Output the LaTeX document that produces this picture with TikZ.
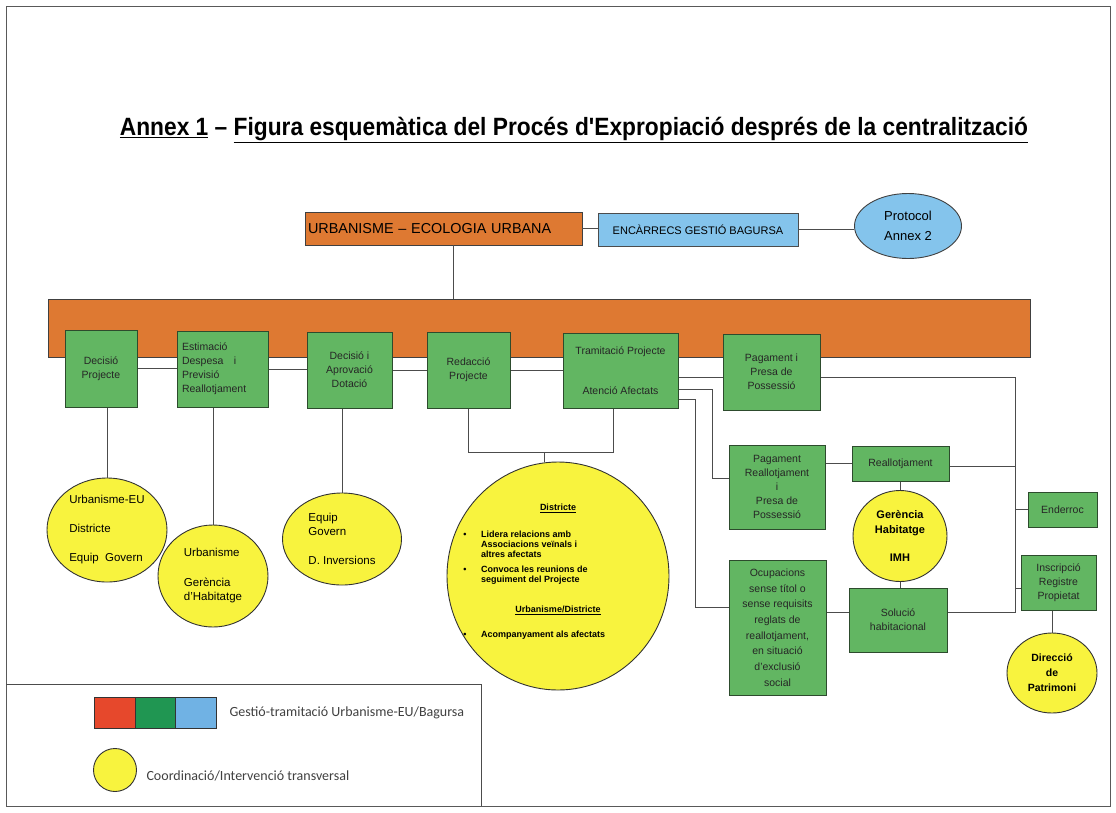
\documentclass[tikz,border=0pt]{standalone}
\usepackage{fontspec}
\setmainfont{Liberation Sans}
\newfontfamily\titlefont[FakeStretch=0.91]{Liberation Sans}
\newfontfamily\legendfont{Carlito}
\usetikzlibrary{shapes.geometric}

\definecolor{urbOrange}{RGB}{222,121,50}
\definecolor{boxGreen}{RGB}{98,182,98}
\definecolor{boxEdge}{RGB}{45,75,45}
\definecolor{bagBlue}{RGB}{132,196,236}
\definecolor{coordYellow}{RGB}{248,243,62}
\definecolor{legRed}{RGB}{230,72,44}
\definecolor{legGreen}{RGB}{32,150,82}
\definecolor{legBlue}{RGB}{112,178,228}

\tikzset{
    link/.style={draw=black!70, line width=0.9pt},
    orangebox/.style={rectangle, draw=black!75, fill=urbOrange, line width=0.8pt, inner sep=0pt},
    greenbox/.style={rectangle, draw=boxEdge, fill=boxGreen, line width=1pt, align=center, inner sep=1pt, text=black!85, font=\fontsize{10.5}{14}\selectfont},
    bluebox/.style={rectangle, draw=black!70, fill=bagBlue, line width=0.8pt},
    yelcirc/.style={ellipse, draw=black!80, fill=coordYellow, line width=0.9pt, inner sep=0pt, align=left, font=\fontsize{11.5}{14}\selectfont},
    distext/.style={font=\fontsize{9}{10}\selectfont\bfseries, align=left, inner sep=0pt},
    swatch/.style={rectangle, draw=black!80, minimum width=41pt, minimum height=31pt, inner sep=0pt, line width=0.8pt},
    legtext/.style={anchor=west, text=black!75, font=\legendfont\fontsize{14}{16}\selectfont}
}

\begin{document}
\begin{tikzpicture}[x=1pt, y=-1pt]
    \useasboundingbox (0,0) rectangle (1116,812);
    \draw[black!65, line width=1pt] (6,6) rectangle (1110,806);
    % Title
    \node[font=\titlefont\bfseries\fontsize{25}{28}\selectfont] (title) at (574,130) {\underline{Annex 1} – \underline{Figura esquemàtica del Procés d'Expropiació després de la centralització}};
    % Top level
    \node[orangebox, minimum width=277pt, minimum height=33pt, text width=271pt, align=left, inner xsep=3pt, font=\fontsize{14.4}{16}\selectfont] (urb) at (443.5,228.5) {URBANISME – ECOLOGIA URBANA};
    \node[bluebox, minimum width=200pt, minimum height=33pt, font=\fontsize{11}{13}\selectfont] (encarrecs) at (698,229.5) {ENCÀRRECS GESTIÓ BAGURSA};
    \node[ellipse, draw=black!75, fill=bagBlue, line width=0.9pt, minimum width=107pt, minimum height=65pt, inner sep=0pt, align=center, font=\fontsize{13}{20}\selectfont] (protocol) at (908,226) {Protocol\\Annex 2};
    % Phases bar
    \node[orangebox, minimum width=982pt, minimum height=58pt] (bar) at (539,328) {};
    % Phases
    \foreach \name/\cx/\cy/\w/\h/\txt in {
        decisio/101/368.5/72/77/{Decisió\\Projecte},
        aprovacio/349.5/370/85/76/{Decisió i\\Aprovació\\Dotació},
        redaccio/468.5/370/83/76/{Redacció\\Projecte},
        tramitacio/620.5/370.5/115/75/{Tramitació Projecte\\[26pt]Atenció Afectats},
        pagament/771.5/372/97/76/{Pagament i\\Presa de\\Possessió},
        pagreall/777/487/96/84/{Pagament\\Reallotjament\\i\\Presa de\\Possessió},
        reallot/900.5/463.5/97/35/{Reallotjament},
        solucio/898/620/98/64/{Solució\\habitacional},
        enderroc/1062.5/509.5/69/35/{Enderroc},
        inscripcio/1058.5/582.5/75/55/{Inscripció\\Registre\\Propietat}} {
        \node[greenbox, minimum width=\w pt, minimum height=\h pt] (\name) at (\cx,\cy) {\txt};
    }
    \node[greenbox, minimum width=91pt, minimum height=76pt, text width=81pt, align=left, inner xsep=5pt] (estimacio) at (222.5,369) {Estimació\\Despesa \ \ i\\Previsió\\Reallotjament};
    \node[greenbox, minimum width=97pt, minimum height=135pt, font=\fontsize{10.5}{15.7}\selectfont] (ocupacions) at (777.5,627.5) {Ocupacions\\sense títol o\\sense requisits\\reglats de\\reallotjament,\\en situació\\d'exclusió\\social};
    % Coordination circles
    \node[yelcirc, minimum width=120pt, minimum height=104pt] (urbeu) at (107,530) {Urbanisme-EU\\[15pt]Districte\\[15pt]Equip\ \ Govern};
    \node[yelcirc, minimum width=110pt, minimum height=102pt] (urbgh) at (213,576) {Urbanisme\\[16pt]Gerència\\d'Habitatge};
    \node[yelcirc, minimum width=119pt, minimum height=92pt] (govern) at (342,539) {Equip\\Govern\\[15pt]D. Inversions};
    \node[yelcirc, minimum width=222pt, minimum height=228pt] (districte) at (558,576) {};
    \node[yelcirc, align=center, minimum width=94pt, minimum height=91pt, font=\fontsize{11}{15}\selectfont\bfseries] (gerencia) at (900,536) {Gerència\\Habitatge\\[13pt]IMH};
    \node[yelcirc, align=center, minimum width=90pt, minimum height=80pt, font=\fontsize{10.5}{15}\selectfont\bfseries] (patrimoni) at (1052,673) {Direcció\\de\\Patrimoni};
    % Districte text
    \node[distext] (dtitle) at (558,508) {\underline{Districte}};
    \node[distext, anchor=base] (dbullet1) at (465,537) {•};
    \node[distext, anchor=west] (dtext1) at (481,544) {Lidera relacions amb\\Associacions veïnals i\\altres afectats};
    \node[distext, anchor=base] (dbullet2) at (465,572) {•};
    \node[distext, anchor=west] (dtext2) at (481,575) {Convoca les reunions de\\seguiment del Projecte};
    \node[distext] (dtitle2) at (558,610) {\underline{Urbanisme/Districte}};
    \node[distext, anchor=base] (dbullet3) at (465,637) {•};
    \node[distext, anchor=base west] (dtext3) at (481,637) {Acompanyament als afectats};
    % Legend
    \draw[black!70, line width=0.9pt] (6,684) -- (481,684) -- (481,806);
    \foreach \name/\cx/\col in {legred/114.5/legRed, leggreen/155.5/legGreen, legblue/196/legBlue} {
        \node[swatch, fill=\col] (\name) at (\cx,712.5) {};
    }
    \node[legtext] (leggestio) at (226,713) {Gestió-tramitació Urbanisme-EU/Bagursa};
    \node[circle, draw=black!80, fill=coordYellow, minimum size=43pt, inner sep=0pt, line width=0.9pt] (legcirc) at (115,770) {};
    \node[legtext] (legcoord) at (143,776) {Coordinació/Intervenció transversal};
    % Links top
    \coordinate (urbfoot) at ([xshift=9.5pt]urb.south);
    \draw[link] (urbfoot) -- (urbfoot |- bar.north);
    \draw[link] (urb.east) -- (urb.east -| encarrecs.west);
    \draw[link] (encarrecs.east) -- (encarrecs.east -| protocol.west);
    % Links between phases
    \foreach \a/\b in {decisio/estimacio, estimacio/aprovacio, aprovacio/redaccio, redaccio/tramitacio} {
        \draw[link] (\a.east) -- (\a.east -| \b.west);
    }
    \coordinate (tramlow) at ([yshift=-6.5pt]tramitacio.east);
    \draw[link] (tramlow) -- (tramlow -| pagament.west);
    \foreach \ph/\cc in {decisio/urbeu, estimacio/urbgh, aprovacio/govern} {
        \draw[link] (\cc.north |- \ph.south) -- (\cc.north);
    }
    % Links to Districte
    \coordinate (djoin) at (544,452);
    \draw[link] (redaccio.south) |- (djoin) -| ([xshift=-7.5pt]tramitacio.south);
    \draw[link] (djoin) -- (djoin |- districte.north);
    % Links from Tramitacio
    \draw[link] ([yshift=-18.5pt]tramitacio.east) -- ++(34,0) |- ([yshift=9pt]pagreall.west);
    \draw[link] ([yshift=-28.5pt]tramitacio.east) -- ++(17,0) |- ([yshift=20.5pt]ocupacions.west);
    % Right bus
    \coordinate (bus) at (1015,377);
    \coordinate (solright) at ([yshift=8pt]solucio.east);
    \draw[link] ([yshift=-5pt]pagament.east) -- (bus) -- (bus |- solright) -- (solright);
    \draw[link] ([yshift=-3pt]reallot.east) -- ([yshift=-3pt]reallot.east -| bus);
    \draw[link] (enderroc.west) -- (enderroc.west -| bus);
    \coordinate (insleft) at ([yshift=-6pt]inscripcio.west);
    \draw[link] (insleft) -- (insleft -| bus);
    \draw[link] (patrimoni.north |- inscripcio.south) -- (patrimoni.north);
    % Reallotjament cluster
    \draw[link] (reallot.west -| pagreall.east) -- (reallot.west);
    \draw[link] (gerencia.north |- reallot.south) -- (gerencia.north);
    \draw[link] (gerencia.south) -- (gerencia.south |- solucio.north);
    \coordinate (solleft) at ([yshift=8pt]solucio.west);
    \draw[link] (solleft -| ocupacions.east) -- (solleft);
\end{tikzpicture}
\end{document}
